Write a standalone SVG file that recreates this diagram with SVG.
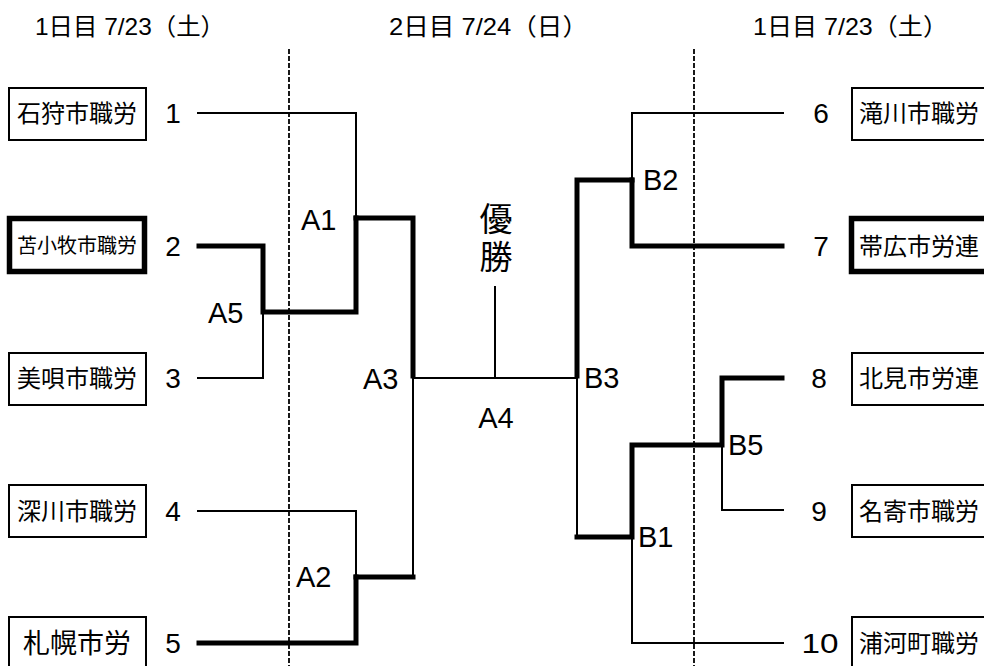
<svg xmlns="http://www.w3.org/2000/svg" width="984" height="666" viewBox="0 0 984 666">
<style>
text{font-family:"Liberation Sans","Noto Sans CJK JP",sans-serif;fill:#000}
.hdr{font-size:24px}
.num{font-size:28px;text-anchor:middle}
.lbl{font-size:29px}
.t24{font-size:24px}
.box{fill:#fff;stroke:#000;stroke-width:2}
.boxw{fill:#fff;stroke:#000;stroke-width:5.5}
.thin{fill:none;stroke:#000;stroke-width:2}
.thick{fill:none;stroke:#000;stroke-width:5;stroke-linejoin:miter;stroke-linecap:square}
.dash{fill:none;stroke:#000;stroke-width:1.8;stroke-dasharray:5 2}
</style>
<rect width="984" height="666" fill="#fff"/>
<g id="headers">
<text class="hdr" x="35" y="35" textLength="190" lengthAdjust="spacingAndGlyphs">1日目 7/23（土）</text>
<text class="hdr" x="389" y="35" textLength="199" lengthAdjust="spacingAndGlyphs">2日目 7/24（日）</text>
<text class="hdr" x="753" y="35" textLength="195" lengthAdjust="spacingAndGlyphs">1日目 7/23（土）</text>
</g>
<g id="day-dividers">
<line class="dash" x1="289" y1="49" x2="289" y2="666"/>
<line class="dash" x1="694" y1="49" x2="694" y2="666"/>
</g>
<g id="connectors">
<path class="thin" d="M197,113 H356 V218"/>
<path class="thin" d="M197,378 H263 V312"/>
<path class="thin" d="M413,378 V577"/>
<path class="thin" d="M197,511 H356 V577"/>
<path class="thin" d="M413,378 H577"/>
<path class="thin" d="M495,286 V378"/>
<path class="thin" d="M784,113 H632 V180"/>
<path class="thin" d="M577,378 V537"/>
<path class="thin" d="M722,445 V510 H784"/>
<path class="thin" d="M632,537 V643 H784"/>
<path class="thick" d="M356,218 H413 V376"/>
<path class="thick" d="M199,246 H263 V312 H356 V218"/>
<path class="thick" d="M356,577 H413"/>
<path class="thick" d="M199,643 H356 V577"/>
<path class="thick" d="M577,376 V180 H632"/>
<path class="thick" d="M782,246 H632 V180"/>
<path class="thick" d="M577,537 H632 V445 H722 V378 H782"/>
</g>
<g id="team-1"><rect class="box" x="9" y="88" width="137" height="52"/><text class="t24" x="17" y="122">石狩市職労</text><text class="num" x="173" y="123">1</text></g>
<g id="team-2"><rect class="boxw" x="9.5" y="218.5" width="135" height="53"/><text x="17" y="253" style="font-size:20px">苫小牧市職労</text><text class="num" x="173" y="256">2</text></g>
<g id="team-3"><rect class="box" x="9" y="353" width="137" height="52"/><text class="t24" x="17" y="387">美唄市職労</text><text class="num" x="173" y="388">3</text></g>
<g id="team-4"><rect class="box" x="9" y="485" width="137" height="52"/><text class="t24" x="17" y="520">深川市職労</text><text class="num" x="173" y="521">4</text></g>
<g id="team-5"><rect class="box" x="9" y="617" width="137" height="60"/><text x="23" y="653" style="font-size:27px">札幌市労</text><text class="num" x="173" y="653">5</text></g>
<g id="team-6"><rect class="box" x="852" y="88" width="140" height="52"/><text class="t24" x="859" y="122">滝川市職労</text><text class="num" x="821" y="123">6</text></g>
<g id="team-7"><rect class="boxw" x="851.5" y="218.5" width="140" height="53"/><text class="t24" x="859" y="255">帯広市労連</text><text class="num" x="821" y="256">7</text></g>
<g id="team-8"><rect class="box" x="852" y="353" width="140" height="52"/><text class="t24" x="859" y="387">北見市労連</text><text class="num" x="819" y="388">8</text></g>
<g id="team-9"><rect class="box" x="852" y="485" width="140" height="52"/><text class="t24" x="859" y="520">名寄市職労</text><text class="num" x="819" y="521">9</text></g>
<g id="team-10"><rect class="box" x="852" y="617" width="140" height="60"/><text class="t24" x="859" y="652">浦河町職労</text><text class="num" x="820" y="653" textLength="37" lengthAdjust="spacingAndGlyphs">10</text></g>
<g id="matches">
<text class="lbl" x="301" y="230">A1</text>
<text class="lbl" x="208" y="323">A5</text>
<text class="lbl" x="363" y="389">A3</text>
<text class="lbl" x="296" y="587">A2</text>
<text class="lbl" x="496" y="428" text-anchor="middle">A4</text>
<text class="lbl" x="643" y="190">B2</text>
<text class="lbl" x="584" y="388">B3</text>
<text class="lbl" x="728" y="455">B5</text>
<text class="lbl" x="638" y="547">B1</text>
</g>
<g id="champion">
<text x="496" y="231" style="font-size:33px" text-anchor="middle">優</text>
<text x="496" y="269" style="font-size:33px" text-anchor="middle">勝</text>
</g>
</svg>
